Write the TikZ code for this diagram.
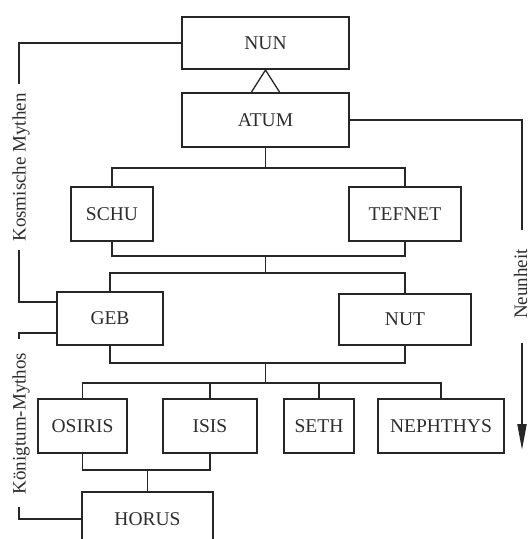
\documentclass[tikz,border=0pt]{standalone}
\usepackage{fontspec}
\setmainfont{Liberation Serif}
\usetikzlibrary{calc,arrows.meta}
\definecolor{ink}{RGB}{38,38,38}
\definecolor{textink}{RGB}{45,45,45}
\begin{document}
\begin{tikzpicture}[x=1pt,y=-1pt,
  godbox/.style={draw=ink, line width=2pt, inner sep=0pt, text=textink,
    font=\fontsize{19.5}{21}\selectfont},
  link/.style={draw=ink, line width=1.3pt},
  sidelabel/.style={rotate=90, anchor=base, inner sep=0pt, text=textink,
    font=\fontsize{19}{21}\selectfont}]
\useasboundingbox (0,0) rectangle (531,539);
\clip (0,0) rectangle (531,539);

% the gods
\node[godbox, minimum width=167, minimum height=52] (nun)      at (265.5,43)  {NUN};
\node[godbox, minimum width=167, minimum height=54] (atum)     at (265.5,120) {ATUM};
\node[godbox, minimum width=82,  minimum height=54] (schu)     at (112,214)   {SCHU};
\node[godbox, minimum width=112, minimum height=54] (tefnet)   at (405,214)   {TEFNET};
\node[godbox, minimum width=106, minimum height=53] (geb)      at (110,318.5) {GEB};
\node[godbox, minimum width=132, minimum height=51] (nut)      at (405,319.5) {NUT};
\node[godbox, minimum width=89,  minimum height=54] (osiris)   at (82.5,426)  {OSIRIS};
\node[godbox, minimum width=94,  minimum height=54] (isis)     at (210,426)   {ISIS};
\node[godbox, minimum width=70,  minimum height=54] (seth)     at (319,426)   {SETH};
\node[godbox, minimum width=126, minimum height=54] (nephthys) at (441,426)   {NEPHTHYS};
\node[godbox, minimum width=131, minimum height=54] (horus)    at (147.5,519) {HORUS};

% Atum arises from Nun
\draw[link] ($(atum.north)+(-14,0)$) -- (nun.south) -- ($(atum.north)+(14,0)$);

% junction points of the family bars
\coordinate (j1) at (265.5,168);
\coordinate (j2) at (265.5,256);
\coordinate (j3) at (265.5,273);
\coordinate (j4) at (265.5,363);
\coordinate (j5) at (265.5,383);
\coordinate (j6) at (147.5,470);

\draw[link] (atum) -- (j1);
\draw[link] (schu.north) |- (j1) -| (tefnet.north);
\draw[link] (schu.south) |- (j2) -| (tefnet.south);
\draw[link] (j2) -- (j3);
\draw[link] (geb.north) |- (j3) -| (nut.north);
\draw[link] (geb.south) |- (j4) -| (nut.south);
\draw[link] (j4) -- (j5);
\draw[link] (osiris.north) |- (j5) -| (nephthys.north);
\draw[link] (isis.north) -- (isis.north |- j5);
\draw[link] (seth.north) -- (seth.north |- j5);
\draw[link] (osiris.south) |- (j6) -| (isis.south);
\draw[link] (j6) -- (horus);

% left brackets: cosmic myths and kingship myth
\coordinate (k1) at (19,84);
\coordinate (k2) at (19,250);
\coordinate (k3) at (19,339);
\coordinate (k4) at (19,507);
\draw[link] (nun.west) -| (k1);
\node[sidelabel] (kosmos) at (25.5,167.5) {Kosmische Mythen};
\draw[link] (k2) |- ($(geb.west)+(0,-16.5)$);
\draw[link] ($(geb.west)+(0,14.5)$) -| (k3);
\node[sidelabel] (koenig) at (25.5,423.5) {Königtum-Mythos};
\draw[link] (k4) |- (horus.west);

% right bracket: the Ennead
\coordinate (r1) at (522,230);
\coordinate (r2) at (522,343);
\coordinate (r3) at (522,450);
\draw[link] (atum.east) -| (r1);
\node[sidelabel] (neun) at (527,284) {Neunheit};
\draw[draw=ink, line width=2pt, -{Triangle[width=9pt,length=26pt]}] (r2) -- (r3);
\end{tikzpicture}
\end{document}
